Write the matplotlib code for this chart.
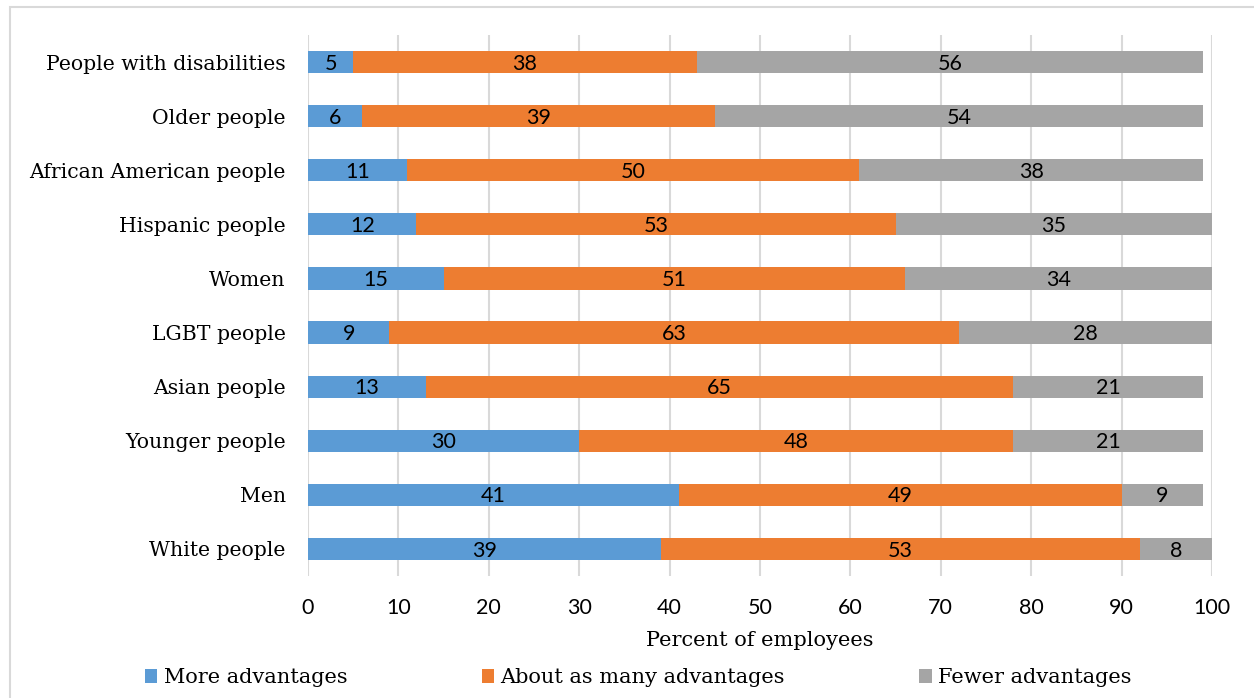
import matplotlib.pyplot as plt
from matplotlib.patches import Rectangle

groups = ['White people', 'Men', 'Younger people', 'Asian people', 'LGBT people',
          'Women', 'Hispanic people', 'African American people', 'Older people',
          'People with disabilities']
more = [39, 41, 30, 13, 9, 15, 12, 11, 6, 5]
same = [53, 49, 48, 65, 63, 51, 53, 50, 39, 38]
fewer = [8, 9, 21, 21, 28, 34, 35, 38, 54, 56]

series = [('More advantages', more, '#5b9bd5'),
          ('About as many advantages', same, '#ed7d31'),
          ('Fewer advantages', fewer, '#a5a5a5')]

serif = 'DejaVu Serif'
sans = 'Lato'

fig = plt.figure(figsize=(12.54, 6.98), dpi=100)
ax = fig.add_axes([0.2456, 0.1748, 0.7209, 0.7751])

# light frame around the chart area
fig.patches.append(Rectangle((10 / 1254, -0.05), 1.1, 1 - 7 / 698 + 0.05,
                             transform=fig.transFigure, fill=False,
                             edgecolor='#d9d9d9', linewidth=1.5))

y = range(len(groups))
left = [0] * len(groups)
handles = []
for name, vals, color in series:
    bars = ax.barh(y, vals, left=left, height=0.41, color=color, label=name)
    for b, v in zip(bars, vals):
        ax.text(b.get_x() + b.get_width() / 2, b.get_y() + b.get_height() / 2 - 0.03,
                str(v), ha='center', va='center', fontsize=15.5, family=sans)
    left = [l + v for l, v in zip(left, vals)]
    handles.append(bars)

ax.set_xlim(0, 100)
ax.set_ylim(-0.5, 9.5)
ax.set_xticks(range(0, 101, 10))
ax.set_yticks(list(y))
ax.set_yticklabels(groups, family=serif, fontsize=14.7)
for t in ax.get_xticklabels():
    t.set_family(sans)
    t.set_fontsize(15.5)
ax.tick_params(length=0)
ax.tick_params(axis='x', pad=16)
ax.tick_params(axis='y', pad=16)
ax.grid(axis='x', color='#d9d9d9', linewidth=1.5)
ax.set_axisbelow(True)
for s in ax.spines.values():
    s.set_visible(False)

ax.set_xlabel('Percent of employees', family=serif, fontsize=15, labelpad=9)

fig.legend(handles=handles, loc='center', bbox_to_anchor=(0.509, 0.029), ncol=3,
           frameon=False, prop={'family': serif, 'size': 15},
           handlelength=0.6, handleheight=0.6, handletextpad=0.3, columnspacing=6.45)

fig.savefig('out.png', dpi=100)
